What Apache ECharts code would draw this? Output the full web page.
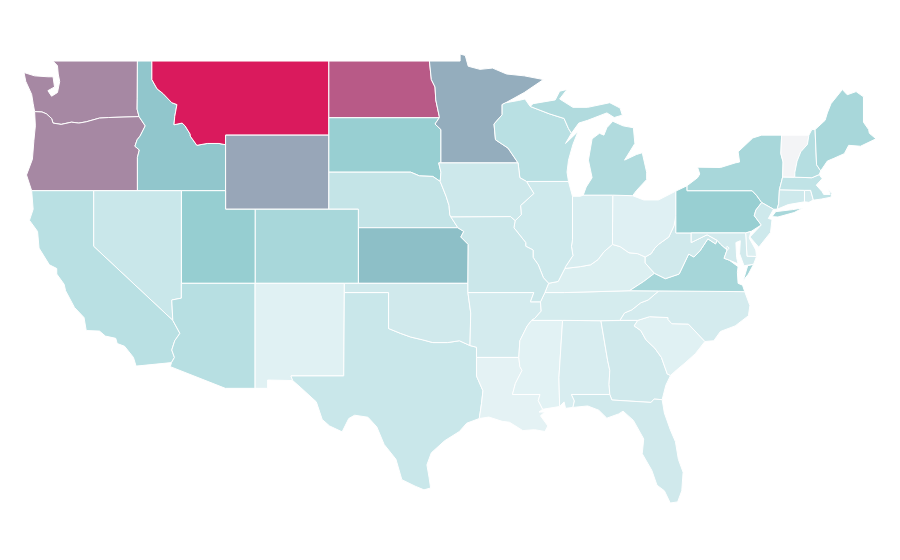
<!DOCTYPE html>
<html><head><meta charset="utf-8">
<style>html,body{margin:0;padding:0;background:#fff}#c{width:900px;height:560px}</style>
<script src="https://cdn.jsdelivr.net/npm/echarts@6/dist/echarts.min.js"></script>
</head><body><div id="c"></div>
<script>
const stateNames=["Washington","Oregon","Idaho","Montana","Wyoming","North Dakota","South Dakota","Minnesota","Nebraska","Kansas","Colorado","Utah","Nevada","California","Arizona","New Mexico","Texas","Oklahoma","Arkansas","Louisiana","Mississippi","Alabama","Georgia","Florida","South Carolina","North Carolina","Tennessee","Kentucky","Virginia","West Virginia","Ohio","Indiana","Illinois","Wisconsin","Michigan","Iowa","Missouri","Pennsylvania","New York","New Jersey","Connecticut","Delaware","Maryland","Rhode Island","Massachusetts","Vermont","New Hampshire","Maine","District of Columbia"];
const stateValues=[80,80,55,100,71,90,48,68,28,60,41,49,25,33,34,11,25,21,19,9,10,16,21,21,11,19,18,14,42,21,12,16,22,33,37,23,24,48,41,22,22,14,20,20,30,0,35,41,15];
const colorRamp=["#f3f4f6","#e2f2f4","#d2eaed","#c0e3e6","#aad8db","#94cdd0","#8dbfc7","#96a9ba","#a688a3","#b85a87","#da1a5d"];

// State outlines in longitude / latitude
const outlines={
"Washington":[[[-117.03,49],[-122.76,49],[-122.45,48.75],[-122.4,48.3],[-122.3,47.9],[-122.45,47.3],[-122.85,47.1],[-123.1,47.4],[-122.65,47.6],[-122.75,48.15],[-123.1,48.15],[-124,48.2],[-124.72,48.38],[-124.6,47.9],[-124.2,47.2],[-124.1,46.7],[-124,46.27],[-123.5,46.25],[-123.2,46.15],[-122.85,45.9],[-122.75,45.65],[-122.2,45.58],[-121.5,45.7],[-121,45.65],[-120.5,45.72],[-119.6,45.92],[-119,45.95],[-116.92,46],[-117.05,46.4],[-117.04,47]]],
"Oregon":[[[-124,46.27],[-123.5,46.25],[-123.2,46.15],[-122.85,45.9],[-122.75,45.65],[-122.2,45.58],[-121.5,45.7],[-121,45.65],[-120.5,45.72],[-119.6,45.92],[-119,45.95],[-116.92,46],[-116.5,45.5],[-116.85,44.95],[-117.05,44.75],[-117.2,44.4],[-116.9,44.2],[-117.03,43.8],[-117.03,42],[-124.2,42],[-124.55,42.85],[-124.15,43.7],[-124.05,44.7],[-123.95,45.5]]],
"Idaho":[[[-117.03,49],[-116.05,49],[-116.05,48],[-115.7,47.5],[-115.3,47.25],[-114.7,46.75],[-114.35,46.65],[-114.5,46],[-114.55,45.56],[-114,45.65],[-113.8,45.5],[-113.45,45.05],[-113.45,44.95],[-113,44.45],[-112.3,44.55],[-111.5,44.55],[-111.05,44.48],[-111.05,42],[-117.03,42],[-117.03,43.8],[-116.9,44.2],[-117.2,44.4],[-117.05,44.75],[-116.85,44.95],[-116.5,45.5],[-116.92,46],[-117.05,46.4],[-117.04,47]]],
"Montana":[[[-116.05,49],[-104.05,49],[-104.05,45],[-111.05,45],[-111.05,44.48],[-111.5,44.55],[-112.3,44.55],[-113,44.45],[-113.45,44.95],[-113.45,45.05],[-113.8,45.5],[-114,45.65],[-114.55,45.56],[-114.5,46],[-114.35,46.65],[-114.7,46.75],[-115.3,47.25],[-115.7,47.5],[-116.05,48]]],
"Wyoming":[[[-111.05,45],[-104.05,45],[-104.05,41],[-111.05,41]]],
"North Dakota":[[[-104.05,49],[-97.23,49],[-97.1,48],[-96.85,47.6],[-96.8,46.9],[-96.56,46],[-96.56,45.94],[-104.05,45.94]]],
"South Dakota":[[[-104.05,45.94],[-96.56,45.94],[-96.85,45.6],[-96.45,45.3],[-96.45,43.5],[-96.6,43.5],[-96.45,43],[-96.5,42.5],[-97,42.77],[-97.9,42.8],[-98.5,43],[-104.05,43]]],
"Minnesota":[[[-97.23,49],[-95.15,49],[-95.15,49.38],[-94.8,49.3],[-94.6,48.72],[-93.8,48.55],[-92.95,48.62],[-92,48.3],[-90.8,48.2],[-89.5,48],[-90.8,47.3],[-92.05,46.75],[-92.3,46.65],[-92.3,46.1],[-92.85,45.6],[-92.75,44.75],[-91.9,44.3],[-91.22,43.5],[-96.45,43.5],[-96.45,45.3],[-96.85,45.6],[-96.56,45.94],[-96.56,46],[-96.8,46.9],[-96.85,47.6],[-97.1,48]]],
"Nebraska":[[[-104.05,43],[-98.5,43],[-97.9,42.8],[-97,42.77],[-96.5,42.5],[-96.1,41.7],[-95.9,41.2],[-95.85,40.7],[-95.77,40.58],[-95.3,40],[-102.05,40],[-102.05,41],[-104.05,41]]],
"Kansas":[[[-102.05,40],[-95.3,40],[-94.9,39.8],[-95.1,39.5],[-94.6,39.1],[-94.62,37],[-102.05,37]]],
"Colorado":[[[-109.05,41],[-102.05,41],[-102.05,37],[-109.05,37]]],
"Utah":[[[-114.05,42],[-111.05,42],[-111.05,41],[-109.05,41],[-109.05,37],[-114.05,37]]],
"Nevada":[[[-120,42],[-114.05,42],[-114.05,36.2],[-114.7,36.1],[-114.63,35],[-120,39]]],
"California":[[[-124.2,42],[-120,42],[-120,39],[-114.63,35],[-114.15,34.3],[-114.5,33.9],[-114.7,33.4],[-114.52,33],[-114.72,32.72],[-117.12,32.53],[-117.3,33],[-117.9,33.6],[-118.4,33.75],[-118.5,34.03],[-119.2,34.15],[-119.6,34.42],[-120.5,34.45],[-120.65,35.15],[-121.3,35.7],[-121.9,36.6],[-122,36.95],[-122.5,37.5],[-122.5,37.8],[-123,38],[-123.7,38.9],[-123.8,39.8],[-124.35,40.4],[-124.1,41]]],
"Arizona":[[[-114.05,37],[-109.05,37],[-109.05,31.33],[-111.07,31.33],[-114.8,32.5],[-114.72,32.72],[-114.52,33],[-114.7,33.4],[-114.5,33.9],[-114.15,34.3],[-114.63,35],[-114.7,36.1],[-114.05,36.2]]],
"New Mexico":[[[-109.05,37],[-103,37],[-103.04,32],[-106.62,32],[-106.5,31.75],[-108.2,31.78],[-108.2,31.33],[-109.05,31.33]]],
"Texas":[[[-106.62,32],[-103.04,32],[-103,36.5],[-100,36.5],[-100,34.56],[-99.2,34.3],[-98.5,34.1],[-97.7,33.95],[-97,33.8],[-96,33.8],[-95.2,33.9],[-94.48,33.64],[-94.04,33.55],[-94.04,33],[-94.04,32],[-93.6,31.2],[-93.7,30.5],[-93.85,29.7],[-94.7,29.45],[-95.2,29],[-96.2,28.5],[-97.1,27.85],[-97.4,27.2],[-97.25,26.5],[-97.15,25.95],[-97.6,25.85],[-98.2,26.05],[-99.1,26.4],[-99.5,27.5],[-100.3,28.3],[-100.8,29.25],[-101.4,29.77],[-102.3,29.88],[-102.7,29.7],[-103.15,28.98],[-104,29.3],[-104.5,29.65],[-104.9,30.6],[-106,31.4],[-106.5,31.75]]],
"Oklahoma":[[[-103,37],[-94.62,37],[-94.62,36.5],[-94.43,35.4],[-94.48,33.64],[-95.2,33.9],[-96,33.8],[-97,33.8],[-97.7,33.95],[-98.5,34.1],[-99.2,34.3],[-100,34.56],[-100,36.5],[-103,36.5]]],
"Arkansas":[[[-94.62,36.5],[-90.15,36.5],[-90.38,36],[-89.7,36],[-89.65,35.5],[-90.1,35.1],[-90.3,35],[-90.6,34.7],[-91.1,33.9],[-91.17,33],[-94.04,33],[-94.04,33.55],[-94.48,33.64],[-94.43,35.4]]],
"Louisiana":[[[-94.04,33],[-91.17,33],[-91.1,32.5],[-90.95,32.3],[-91.4,31.6],[-91.6,31],[-89.73,31],[-89.85,30.67],[-89.55,30.2],[-89.8,30.05],[-89.4,30.05],[-89.7,29.85],[-89.2,29.3],[-89.4,29],[-90.1,29.1],[-90.9,29.05],[-91.8,29.5],[-92.3,29.55],[-93.2,29.78],[-93.85,29.7],[-93.7,30.5],[-93.6,31.2],[-94.04,32]]],
"Mississippi":[[[-90.3,35],[-88.2,35],[-88.45,31.9],[-88.4,30.35],[-89.55,30.2],[-89.85,30.67],[-89.73,31],[-91.6,31],[-91.4,31.6],[-90.95,32.3],[-91.1,32.5],[-91.17,33],[-91.1,33.9],[-90.6,34.7]]],
"Alabama":[[[-88.2,35],[-85.6,34.98],[-85.15,32.85],[-85,32.3],[-85.05,31.55],[-85,31],[-87.6,31],[-87.4,30.65],[-87.5,30.3],[-88,30.25],[-88.1,30.6],[-88.4,30.35],[-88.45,31.9]]],
"Georgia":[[[-85.6,34.98],[-83.1,35],[-83.35,34.7],[-82.9,34.45],[-82.55,33.95],[-81.95,33.5],[-81.5,33],[-81.1,32.1],[-80.88,32.03],[-81.2,31.5],[-81.45,30.72],[-82,30.75],[-82.2,30.57],[-84.86,30.7],[-85,31],[-85.05,31.55],[-85,32.3],[-85.15,32.85]]],
"Florida":[[[-87.6,31],[-85,31],[-84.86,30.7],[-82.2,30.57],[-82,30.75],[-81.45,30.72],[-81.3,30],[-80.9,29.1],[-80.55,28.45],[-80.35,27.5],[-80.03,26.8],[-80.12,25.8],[-80.4,25.2],[-80.9,25.14],[-81.3,25.8],[-81.8,26.1],[-82.15,26.9],[-82.8,27.8],[-82.7,28.6],[-83.4,29.6],[-84.1,30.1],[-84.4,29.95],[-85.2,29.72],[-85.75,30.15],[-86.5,30.38],[-87.5,30.3],[-87.4,30.65]]],
"South Carolina":[[[-83.1,35],[-82.3,35.2],[-81.05,35.15],[-81.05,35.05],[-80.8,34.82],[-79.67,34.8],[-78.55,33.86],[-79.2,33.2],[-79.9,32.7],[-80.5,32.3],[-80.88,32.03],[-81.1,32.1],[-81.5,33],[-81.95,33.5],[-82.55,33.95],[-82.9,34.45],[-83.35,34.7]]],
"North Carolina":[[[-84.32,35],[-83.1,35],[-82.3,35.2],[-81.05,35.15],[-81.05,35.05],[-80.8,34.82],[-79.67,34.8],[-78.55,33.86],[-77.95,33.9],[-77.5,34.4],[-76.5,34.7],[-75.6,35.25],[-75.5,35.8],[-75.85,36.55],[-81.68,36.59],[-82.4,36.1],[-82.9,35.95],[-83.5,35.57],[-84,35.4]]],
"Tennessee":[[[-90.3,35],[-88.2,35],[-85.6,34.98],[-84.32,35],[-84,35.4],[-83.5,35.57],[-82.9,35.95],[-82.4,36.1],[-81.68,36.59],[-83.67,36.6],[-88.07,36.5],[-89.4,36.5],[-89.7,36],[-89.65,35.5],[-90.1,35.1]]],
"Kentucky":[[[-89.4,36.5],[-89.15,37],[-88.5,37.1],[-88.05,37.8],[-87,37.9],[-86.3,38],[-85.8,38.28],[-85.4,38.7],[-84.82,39.1],[-84.3,38.98],[-83.7,38.65],[-83.1,38.6],[-82.6,38.42],[-82.6,38.1],[-81.97,37.54],[-82.7,37.1],[-83.67,36.6],[-88.07,36.5]]],
"Virginia":[[[-83.67,36.6],[-81.68,36.59],[-75.85,36.55],[-76,36.9],[-76.3,37],[-76.35,37.6],[-76.3,37.9],[-76.9,38.25],[-77.25,38.35],[-77.05,38.8],[-77.5,39.12],[-77.72,39.32],[-77.83,39.13],[-78.35,39.4],[-78.87,38.77],[-79.3,38.42],[-79.65,38.58],[-80.3,37.5],[-81.23,37.25],[-81.97,37.54],[-82.7,37.1]],[[-75.95,37.15],[-75.65,37.95],[-75.25,38.03],[-75.6,37.5]]],
"West Virginia":[[[-82.6,38.42],[-82.2,38.6],[-81.95,38.9],[-81.7,39.1],[-81,39.5],[-80.65,40.1],[-80.52,40.64],[-80.52,39.72],[-79.48,39.72],[-79.48,39.2],[-78.4,39.62],[-77.72,39.32],[-77.83,39.13],[-78.35,39.4],[-78.87,38.77],[-79.3,38.42],[-79.65,38.58],[-80.3,37.5],[-81.23,37.25],[-81.97,37.54],[-82.6,38.1]]],
"Ohio":[[[-84.8,41.76],[-83.45,41.73],[-82.7,41.5],[-81.7,41.5],[-80.52,41.98],[-80.52,40.64],[-80.65,40.1],[-81,39.5],[-81.7,39.1],[-81.95,38.9],[-82.2,38.6],[-82.6,38.42],[-83.1,38.6],[-83.7,38.65],[-84.3,38.98],[-84.82,39.1]]],
"Indiana":[[[-87.53,41.7],[-87,41.7],[-86.8,41.76],[-84.8,41.76],[-84.82,39.1],[-85.4,38.7],[-85.8,38.28],[-86.3,38],[-87,37.9],[-88.05,37.8],[-88,37.9],[-87.5,38.5],[-87.6,39],[-87.53,39.35]]],
"Illinois":[[[-90.65,42.5],[-87.8,42.5],[-87.53,41.7],[-87.53,39.35],[-87.6,39],[-87.5,38.5],[-88,37.9],[-88.05,37.8],[-88.5,37.1],[-89.15,37],[-89.5,37.3],[-89.85,38],[-90.2,38.4],[-90.2,38.8],[-90.7,39],[-90.7,39.2],[-91.5,40],[-91.42,40.38],[-91,40.7],[-91.05,41.2],[-90.15,41.85]]],
"Wisconsin":[[[-92.05,46.75],[-91.2,46.87],[-90.75,46.95],[-90.4,46.55],[-89.1,46.15],[-88.1,45.9],[-87.8,45.35],[-87.6,45.1],[-88,44.55],[-87.15,45.2],[-87.5,44.5],[-87.8,43.65],[-87.9,43],[-87.8,42.5],[-90.65,42.5],[-91.1,42.7],[-91.22,43.5],[-91.9,44.3],[-92.75,44.75],[-92.85,45.6],[-92.3,46.1],[-92.3,46.65]]],
"Michigan":[[[-86.8,41.76],[-84.8,41.76],[-83.45,41.73],[-83.2,42],[-82.5,42.6],[-82.5,43],[-82.8,44.05],[-83.2,43.95],[-84,43.65],[-83.3,44.55],[-83.4,45.4],[-84.1,45.5],[-84.8,45.75],[-85.2,45.4],[-85.4,45],[-85.7,45.1],[-86.2,44.8],[-86.45,43.65],[-86.2,42.7],[-86.6,42.2]],[[-90.4,46.55],[-90.2,46.7],[-88.7,46.9],[-88.4,47.37],[-87.9,47.47],[-88.4,46.95],[-87.5,46.5],[-86.5,46.5],[-85,46.75],[-84.3,46.46],[-84.15,46.08],[-84.7,45.95],[-85.2,46.2],[-86.5,45.8],[-87.1,45.65],[-87.6,45.1],[-87.8,45.35],[-88.1,45.9],[-89.1,46.15]]],
"Iowa":[[[-96.45,43.5],[-91.22,43.5],[-91.1,42.7],[-90.65,42.5],[-90.15,41.85],[-91.05,41.2],[-91,40.7],[-91.42,40.38],[-91.73,40.6],[-95.77,40.58],[-95.85,40.7],[-95.9,41.2],[-96.1,41.7],[-96.5,42.5],[-96.45,43],[-96.6,43.5]]],
"Missouri":[[[-95.77,40.58],[-91.73,40.6],[-91.42,40.38],[-91.5,40],[-90.7,39.2],[-90.7,39],[-90.2,38.8],[-90.2,38.4],[-89.85,38],[-89.5,37.3],[-89.15,37],[-89.4,36.5],[-89.7,36],[-90.38,36],[-90.15,36.5],[-94.62,36.5],[-94.62,37],[-94.6,39.1],[-95.1,39.5],[-94.9,39.8],[-95.3,40]]],
"Pennsylvania":[[[-80.52,41.98],[-79.76,42.27],[-79.76,42],[-75.35,42],[-75.05,41.75],[-74.7,41.36],[-75.1,40.95],[-75.2,40.65],[-74.73,40.15],[-75.42,39.8],[-75.79,39.72],[-80.52,39.72],[-80.52,40.64]]],
"New York":[[[-79.76,42.27],[-79.05,42.7],[-78.9,42.9],[-79.05,43.27],[-77.5,43.25],[-76.5,43.5],[-76.2,43.55],[-76.3,44.1],[-75.3,44.85],[-74.7,45],[-73.35,45],[-73.4,44],[-73.25,43.55],[-73.28,42.74],[-73.5,42.05],[-73.55,41.3],[-73.65,41],[-73.9,41],[-74.7,41.36],[-75.05,41.75],[-75.35,42],[-79.76,42]],[[-74,40.6],[-73.75,40.87],[-72.6,40.98],[-71.9,41.07],[-72.5,40.82],[-73.6,40.58]]],
"New Jersey":[[[-74.7,41.36],[-73.9,41],[-74.25,40.5],[-74,40.45],[-74.1,39.75],[-74.9,38.95],[-75.5,39.5],[-74.73,40.15],[-75.2,40.65],[-75.1,40.95]]],
"Connecticut":[[[-73.5,42.05],[-71.8,42.02],[-71.8,41.4],[-72.9,41.25],[-73.65,41],[-73.55,41.3]]],
"Delaware":[[[-75.79,39.72],[-75.42,39.8],[-75.55,39.45],[-75.1,38.8],[-75.05,38.45],[-75.7,38.46]]],
"Maryland":[[[-79.48,39.72],[-75.79,39.72],[-75.7,38.46],[-75.05,38.45],[-75.25,38.03],[-75.9,37.95],[-76.2,38.6],[-76.15,39.3],[-76.45,39.2],[-76.4,38.4],[-76.3,38.05],[-76.9,38.25],[-77.25,38.35],[-77.05,38.8],[-77.5,39.12],[-77.72,39.32],[-78.4,39.62],[-79.48,39.2]]],
"Rhode Island":[[[-71.8,42.02],[-71.38,42.02],[-71.2,41.5],[-71.5,41.37],[-71.8,41.4]]],
"Massachusetts":[[[-73.5,42.05],[-73.28,42.74],[-72.46,42.73],[-71.3,42.7],[-70.8,42.87],[-70.6,42.65],[-71,42.3],[-70.6,41.95],[-70.5,41.8],[-70.05,41.8],[-70.2,42.07],[-69.95,41.85],[-70,41.65],[-70.65,41.55],[-71.1,41.5],[-71.2,41.5],[-71.38,42.02],[-71.8,42.02]]],
"Vermont":[[[-73.35,45],[-71.5,45],[-71.6,44.5],[-72.05,44.1],[-72.3,43.6],[-72.45,43],[-72.46,42.73],[-73.28,42.74],[-73.25,43.55],[-73.4,44]]],
"New Hampshire":[[[-71.5,45],[-71.3,45.3],[-71.08,45.3],[-70.98,43.4],[-70.7,43.07],[-70.8,42.87],[-71.3,42.7],[-72.46,42.73],[-72.45,43],[-72.3,43.6],[-72.05,44.1],[-71.6,44.5]]],
"Maine":[[[-71.08,45.3],[-70.4,45.8],[-70.25,46.2],[-70,46.7],[-69.23,47.46],[-68.9,47.18],[-68.3,47.35],[-67.8,47.07],[-67.8,45.7],[-67.45,45.3],[-67.4,45.1],[-66.95,44.8],[-68,44.4],[-68.8,44.45],[-69.1,44],[-69.8,43.75],[-70.25,43.6],[-70.7,43.07],[-70.98,43.4]]],
"District of Columbia":[[[-77.12,38.93],[-77.04,39],[-76.91,38.89],[-77.04,38.79]]]
};

function closed(ring){return ring.concat([ring[0]]);}
// separate rings of a state are separate parts, not holes
const usa={type:"FeatureCollection",features:stateNames.map(function(name){
  return {type:"Feature",properties:{name:name},geometry:{type:"MultiPolygon",coordinates:outlines[name].map(function(r){return [closed(r)];})}};
})};

echarts.registerMap("USA",usa);
const chart=echarts.init(document.getElementById("c"),null,{renderer:"canvas"});
chart.setOption({
  animation:false,
  backgroundColor:"#fff",
  visualMap:{show:false,type:"continuous",min:0,max:100,seriesIndex:0,inRange:{color:colorRamp}},
  series:[{
    type:"map",map:"USA",roam:false,aspectScale:0.797,
    left:24,top:54,width:852,height:449,
    label:{show:false},
    itemStyle:{borderColor:"#ffffff",borderWidth:1},
    emphasis:{disabled:true},select:{disabled:true},
    data:stateNames.map(function(n,i){return {name:n,value:stateValues[i]};})
  }]
});
</script></body></html>
